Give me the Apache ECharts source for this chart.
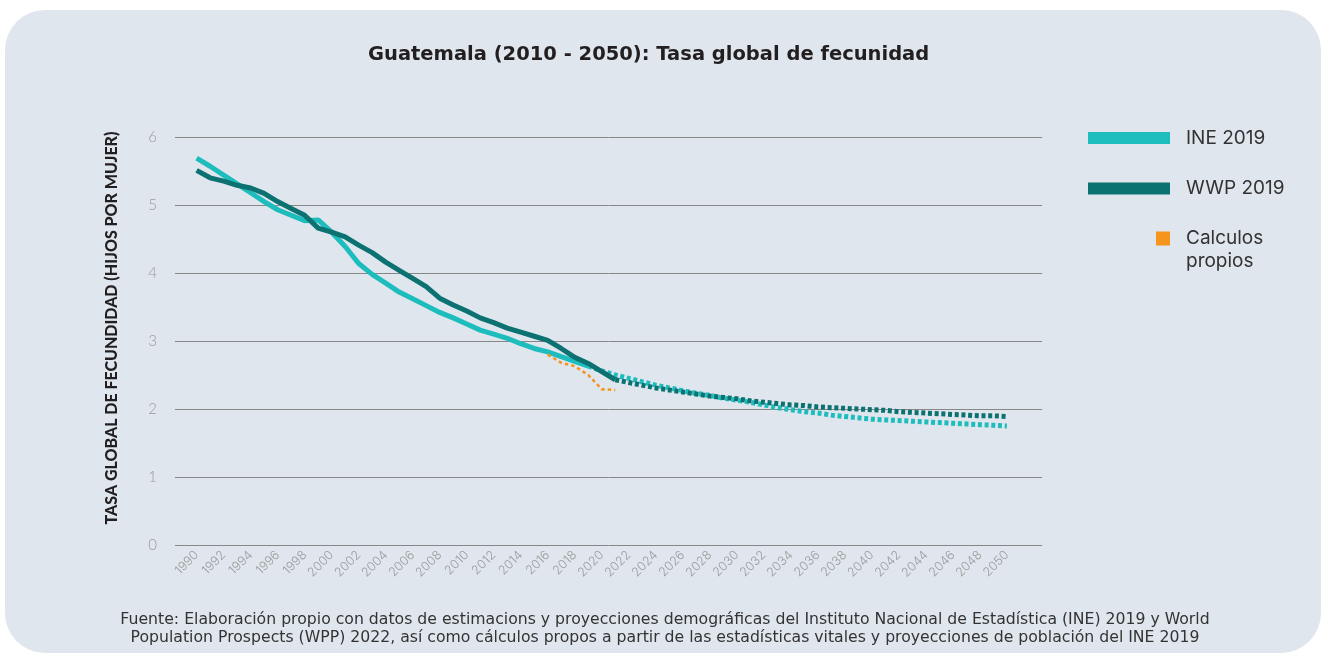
<!DOCTYPE html>
<html>
<head>
<meta charset="utf-8">
<script src="https://cdn.jsdelivr.net/npm/echarts@6/dist/echarts.min.js"></script>
<style>
html,body{margin:0;padding:0;background:#ffffff;width:1323px;height:655px;overflow:hidden;}
#card{position:absolute;left:5px;top:10px;width:1316px;height:643px;background:#dfe6ed;border-radius:40px;}
#chart{position:absolute;left:0;top:0;width:1323px;height:655px;}
</style>
</head>
<body>
<div id="card"></div>
<div id="chart"></div>
<script>
// ---- data ----
const yearLabels = [1990,1992,1994,1996,1998,2000,2002,2004,2006,2008,2010,2012,2014,2016,2018,2020,
  2022,2024,2026,2028,2030,2032,2034,2036,2038,2040,2042,2044,2046,2048,2050];
const yTicks = [0,1,2,3,4,5,6];

// INE 2019 – estimates, 1990..2019
const ineStartYear = 1990;
const ineEstimate = [5.69,5.57,5.44,5.31,5.18,5.05,4.93,4.85,4.77,4.78,4.60,4.39,4.14,3.98,3.85,3.72,3.62,3.52,3.42,3.34,
  3.25,3.16,3.10,3.04,2.96,2.89,2.84,2.77,2.70,2.63];
// INE 2019 – projection, 2019..2050
const ineProjStartYear = 2019;
const ineProjection = [2.63,2.56,2.50,2.45,2.40,2.35,2.31,2.27,2.23,2.20,2.16,2.13,2.10,2.06,2.02,1.99,1.96,1.94,1.91,1.89,
  1.87,1.85,1.84,1.83,1.82,1.81,1.80,1.79,1.78,1.77,1.76,1.75];

// WWP 2019 – estimates, 1990..2021
const wppStartYear = 1990;
const wppEstimate = [5.51,5.40,5.35,5.29,5.25,5.17,5.05,4.95,4.85,4.66,4.60,4.53,4.41,4.30,4.16,4.04,3.92,3.80,3.63,3.53,
  3.44,3.34,3.27,3.19,3.13,3.07,3.01,2.89,2.76,2.67,2.55,2.43];
// WWP 2019 – projection, 2021..2050
const wppProjStartYear = 2021;
const wppProjection = [2.43,2.39,2.35,2.31,2.28,2.25,2.22,2.19,2.17,2.15,2.12,2.10,2.08,2.06,2.05,2.03,2.02,2.01,2.00,1.99,
  1.98,1.96,1.95,1.94,1.93,1.92,1.91,1.90,1.90,1.89];

// Calculos propios, 2016..2021
const calcStartYear = 2016;
const calculos = [2.80,2.68,2.63,2.50,2.29,2.28];

const seriesNames = ['INE 2019','WWP 2019','Calculos propios'];
const legendLabels = ['INE 2019','WWP 2019','Calculos','propios'];
const titleText = 'Guatemala (2010 - 2050): Tasa global de fecunidad';
const yAxisTitle = 'TASA GLOBAL DE FECUNDIDAD (HIJOS POR MUJER)';
const footerLines = [
  'Fuente: Elaboración propio con datos de estimacions y proyecciones demográficas del Instituto Nacional de Estadística (INE) 2019 y World',
  'Population Prospects (WPP) 2022, así como cálculos propos a partir de las estadísticas vitales y proyecciones de población del INE 2019'
];

// ---- build ----
function pairs(start, vals){ return vals.map((v,i)=>[start+i, v]); }

const C_INE = '#1dbcbd';
const C_WPP = '#0b7171';
const C_CALC = '#f7941d';
const FONT = 'Inter, "Noto Sans", sans-serif';
const WIDE = '"DejaVu Sans", sans-serif';
const legendText = {fontFamily: FONT, fontSize: 19, color: '#333', padding: [0,0,0,11]};

const chart = echarts.init(document.getElementById('chart'), null, {renderer:'canvas'});
chart.setOption({
  backgroundColor: 'transparent',
  animation: false,
  title: {
    text: titleText, left: 368, top: 45, padding: 0,
    textStyle: {fontFamily: WIDE, fontWeight: 'bold', fontSize: 19.5, color: '#231f20'}
  },
  grid: {left: 175, right: 281, top: 137, bottom: 110, containLabel: false},
  xAxis: {
    type: 'value', min: 1988.4, max: 2052.6,
    axisLine: {show: false}, axisTick: {show: false}, splitLine: {show: false},
    axisLabel: {
      customValues: yearLabels, rotate: 45, margin: 8,
      color: '#9c9c9c', fontFamily: FONT, fontSize: 12.5, fontWeight: 300,
      formatter: v => String(v)
    }
  },
  yAxis: {
    type: 'value', min: 0, max: 6, interval: 1,
    name: yAxisTitle, nameLocation: 'middle', nameRotate: 90, nameGap: 55,
    nameTextStyle: {fontFamily: 'Lato, sans-serif', fontWeight: 900, fontSize: 16, color: '#231f20', padding: [0,0,0,26]},
    axisLine: {show: false}, axisTick: {show: false},
    splitLine: {lineStyle: {color: '#878787', width: 1}},
    axisLabel: {margin: 18, color: '#9a9a9a', fontFamily: 'Lato, sans-serif', fontWeight: 300, fontSize: 15}
  },
  legend: [
    {data: [seriesNames[0]], left: 1088, top: 128.5, padding: 0, itemWidth: 82, itemHeight: 12, icon: 'rect',
     formatter: () => legendLabels[0], textStyle: legendText},
    {data: [seriesNames[1]], left: 1088, top: 179, padding: 0, itemWidth: 82, itemHeight: 12, icon: 'rect',
     formatter: () => legendLabels[1], textStyle: legendText},
    {data: [seriesNames[2]], left: 1156, top: 229, padding: 0, itemWidth: 14, itemHeight: 14, icon: 'rect',
     formatter: () => legendLabels[2], textStyle: legendText}
  ],
  graphic: [
    {type: 'text', left: 1186, top: 252,
     style: {text: legendLabels[3], fontFamily: FONT, fontSize: 19, fill: '#333'}},
    {type: 'text', x: 665, y: 611,
     style: {text: footerLines.join('\n'), fontFamily: WIDE, fontSize: 15.7, lineHeight: 18, fill: '#333',
             align: 'center', verticalAlign: 'top'}}
  ],
  series: [
    {name: seriesNames[0], type: 'line', data: pairs(ineStartYear, ineEstimate), color: C_INE,
     symbol: 'none', lineStyle: {width: 5, color: C_INE}, z: 2},
    {name: 'INE 2019 proyección', type: 'line', data: pairs(ineProjStartYear, ineProjection), color: C_INE,
     symbol: 'none', lineStyle: {width: 5, color: C_INE, type: [4, 2.7], cap: 'butt'}, z: 2},
    {name: seriesNames[1], type: 'line', data: pairs(wppStartYear, wppEstimate), color: C_WPP,
     symbol: 'none', lineStyle: {width: 5, color: C_WPP}, z: 3},
    {name: 'WWP 2019 proyección', type: 'line', data: pairs(wppProjStartYear, wppProjection), color: C_WPP,
     symbol: 'none', lineStyle: {width: 5, color: C_WPP, type: [4, 2.7], cap: 'butt'}, z: 3},
    {name: seriesNames[2], type: 'line', data: pairs(calcStartYear, calculos), color: C_CALC,
     symbol: 'none', lineStyle: {width: 2.5, color: C_CALC, type: [3.5, 3], cap: 'butt'}, z: 4}
  ]
});
</script>
</body>
</html>
